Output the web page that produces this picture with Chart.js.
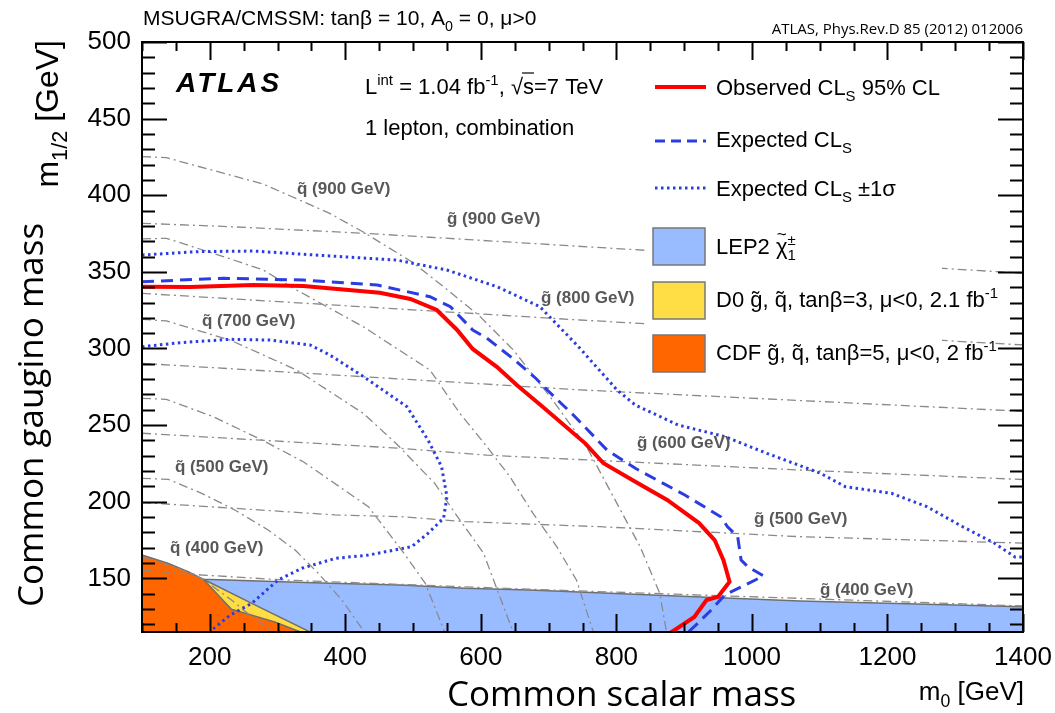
<!DOCTYPE html>
<html>
<head>
<meta charset="utf-8">
<script src="https://cdn.jsdelivr.net/npm/chart.js@4.4.0/dist/chart.umd.min.js"></script>
<style>
  html, body { margin: 0; padding: 0; background: #fff; }
  #wrap { width: 1055px; height: 713px; position: relative; }
</style>
</head>
<body>
<div id="wrap"><canvas id="canvas"></canvas></div>
<script>
// m0 / m1/2 exclusion contours, [m0, m12] in GeV
var observed = [[100,340.3],[171,340.1],[264,341.4],[338,340.8],[451,336.4],[496,332.3],[535,325.1],[565,312.1],[588,299.7],[624,287.9],[653,276.2],[692,261.6],[754,238.1],[781,225.1],[828,213.1],[875,201.2],[922,186.1],[945,175],[958,161.9],[967,147.8],[950,138],[933,135.9],[915,124.8],[880,114.5]];
var expected = [[100,343.6],[220,345.8],[338,344.7],[447,341.4],[525,333.8],[555,327.3],[588,312.1],[609,306.7],[647,293.6],[681,280.6],[698,272.9],[739,255.5],[786,233.8],[828,221.8],[901,204.4],[954,190.2],[964,183.7],[979,177.2],[984,162],[994,157.6],[1017,151.6],[985,144.6],[960,139.2],[940,129.4],[920,120.7],[905,114.5]];
var expPlus = [[100,361],[181,363.2],[264,363.6],[377,360.4],[476,357.7],[550,351.2],[624,340.3],[687,327.3],[744,301.2],[801,272.9],[828,263.1],[891,250.1],[960,242.5],[1022,231.6],[1101,218.6],[1138,209.8],[1206,205.5],[1258,196.8],[1311,183.7],[1358,172.9],[1388,164],[1400,164]];
var expMinus = [[100,301.2],[156,303.8],[230,306],[289,305.5],[348,302.3],[377,295.8],[427,281.6],[491,262],[522,240.3],[542,222.9],[550,203.3],[545,189.2],[522,179.4],[498,170.7],[434,165.2],[385,163],[336,156.6],[301,149],[262,133.7],[230,126],[203,116.3],[201,115]];

// earlier limits (upper edges, filled down to the axis)
var lep2 = [[100,152],[190,149.4],[377,146.8],[481,145.7],[577,143.5],[672,142.4],[1071,135.2],[1400,131.5]];
var d0 = [[190.5,149.4],[262,133.7],[350.4,114.5]];
var cdf = [[100,165.3],[139,159.8],[168,154.4],[190.5,149.4],[232,129.8],[252,127.3],[296,121.5],[337,114.5]];

// iso-mass contours
var gluino400 = [[100,155.5],[188,152.2],[311,148.9],[672,142.9],[1400,132]];
var gluino500 = [[100,199.5],[237,195.7],[385,191.4],[481,190.3],[577,187],[776,183.7],[1071,177.2],[1400,173]];
var gluino600 = [[100,244.7],[481,234.9],[609,230.4],[1071,220.7],[1400,214.5]];
var gluino700 = [[100,290.3],[628,276.2],[746,273],[1400,259]];
var gluino800 = [[100,336],[746,318.6],[1400,302.3]];
var gluino900 = [[100,381.7],[230,379.5],[426.5,375.2],[525,372.6],[1400,349.1]];
var squark400 = [[100,164],[154,156.6],[188,150],[232,135.9],[262,125],[296,114.5]];
var squark500 = [[100,215.3],[139,214.6],[188,205.5],[237,194.6],[286,181.6],[326,168.5],[360,153.3],[395,135.9],[429,114.5]];
var squark600 = [[100,267.5],[136,266.8],[205,255.5],[277,240.3],[338,226.1],[434,196.8],[483,168.5],[518,146.8],[547,114.5]];
var squark700 = [[100,319],[136,318],[230,305.5],[328,286],[426.5,257.7],[475,238],[532,212],[562,192.5],[604,166.4],[648,114.5]];
var squark800 = [[100,371.5],[136,371.9],[220,360],[279,351.2],[328,338.2],[426.5,314.2],[525,285.9],[569,257.7],[609,235.9],[643,216.3],[677,192.4],[712,170.7],[741,149],[766,115]];
var squark900 = [[100,425.2],[136,424.5],[279,407.3],[377,388.2],[426.5,376],[500,356],[545,340.3],[599,320.8],[648,299],[702,268.6],[756,235.9],[795.5,203.3],[835,170.7],[864,140.2],[874,115]];

var isoLabels = [
    ['q\u0303 (900 GeV)', 297, 188], ['g\u0303 (900 GeV)', 447, 218],
    ['q\u0303 (700 GeV)', 202, 320], ['g\u0303 (800 GeV)', 541, 297],
    ['g\u0303 (600 GeV)', 637, 442], ['q\u0303 (500 GeV)', 175, 466],
    ['g\u0303 (500 GeV)', 754, 518], ['q\u0303 (400 GeV)', 170, 547],
    ['g\u0303 (400 GeV)', 820, 589]
];

var xTicks = [200, 400, 600, 800, 1000, 1200, 1400];
var yTicks = [150, 200, 250, 300, 350, 400, 450, 500];

var HELV = "'Liberation Sans', Arial, Helvetica, sans-serif";
var OPEN = "'Open Sans', 'Noto Sans', sans-serif";
var ISO_DASH = [9, 4, 2, 4];

function pts(arr) {
    return arr.map(function (p) { return { x: p[0], y: p[1] }; });
}
function curve(arr, color, width, dash) {
    return {
        data: pts(arr), borderColor: color, borderWidth: width, borderDash: dash || [],
        pointRadius: 0, pointHoverRadius: 0, fill: false, tension: 0, clip: 0
    };
}
function region(arr, color) {
    return {
        data: pts(arr), borderColor: '#6f6f6f', borderWidth: 1.5, backgroundColor: color,
        pointRadius: 0, pointHoverRadius: 0, fill: 'start', tension: 0, clip: 0
    };
}

// draw text made of plain / sub / sup pieces, returns width
function rich(ctx, x, y, parts, size, weight, family, dry) {
    var cx = x;
    parts.forEach(function (p) {
        var t = p[0], m = p[1] || '';
        var fs = size, dy = 0;
        if (m.indexOf('sub') === 0) { fs = size * 0.68; dy = size * 0.28; }
        if (m.indexOf('sup') === 0) { fs = size * 0.68; dy = -size * 0.42; }
        ctx.font = (weight || '') + ' ' + fs + 'px ' + family;
        if (!dry) ctx.fillText(t, cx, y + dy);
        if (m.slice(-1) !== 'k') cx += ctx.measureText(t).width;
    });
    return cx - x;
}

var overlay = {
    id: 'overlay',
    afterDatasetsDraw: function (chart) {
        var ctx = chart.ctx;
        ctx.save();
        ctx.textBaseline = 'alphabetic';
        ctx.textAlign = 'left';

        // iso-mass labels
        ctx.fillStyle = '#585858';
        ctx.font = 'bold 17px ' + HELV;
        isoLabels.forEach(function (l) { ctx.fillText(l[0], l[1], l[2] + 6); });

        // legend
        ctx.fillStyle = '#fff';
        ctx.fillRect(645, 60, 297, 322);
        ctx.lineCap = 'butt';
        ctx.strokeStyle = '#ff0000'; ctx.lineWidth = 4; ctx.setLineDash([]);
        ctx.beginPath(); ctx.moveTo(655, 87); ctx.lineTo(706, 87); ctx.stroke();
        ctx.strokeStyle = '#2b3de0'; ctx.lineWidth = 3; ctx.setLineDash([10, 6]);
        ctx.beginPath(); ctx.moveTo(655, 141); ctx.lineTo(706, 141); ctx.stroke();
        ctx.setLineDash([2.5, 3.5]);
        ctx.beginPath(); ctx.moveTo(655, 188); ctx.lineTo(706, 188); ctx.stroke();
        ctx.setLineDash([]);
        [['#99bbff', 228], ['#ffdd44', 282], ['#ff6600', 335]].forEach(function (b) {
            ctx.fillStyle = b[0];
            ctx.fillRect(653, b[1], 52, 37);
            ctx.strokeStyle = '#777'; ctx.lineWidth = 1.5;
            ctx.strokeRect(653, b[1], 52, 37);
        });
        ctx.fillStyle = '#000';
        var L = 22, tx = 716;
        rich(ctx, tx, 95, [['Observed CL'], ['S', 'sub'], [' 95% CL']], L, '', HELV);
        rich(ctx, tx, 147, [['Expected CL'], ['S', 'sub']], L, '', HELV);
        rich(ctx, tx, 196, [['Expected CL'], ['S', 'sub'], [' \u00b11\u03c3']], L, '', HELV);
        // chargino symbol with its tilde drawn on top
        var lw = rich(ctx, tx, 254, [['LEP2 ']], L, '', HELV);
        ctx.font = L + 'px ' + HELV;
        var cw = ctx.measureText('\u03c7').width;
        ctx.fillText('\u03c7', tx + lw, 254);
        ctx.font = '17px ' + HELV;
        ctx.textAlign = 'center';
        ctx.fillText('~', tx + lw + cw / 2, 240);
        ctx.textAlign = 'left';
        rich(ctx, tx + lw + cw, 254, [['\u00b1', 'supk'], ['1', 'sub']], L, '', HELV);
        rich(ctx, tx, 307, [['D0 g\u0303, q\u0303, tan\u03b2=3, \u03bc<0, 2.1 fb'], ['-1', 'sup']], L, '', HELV);
        rich(ctx, tx, 360, [['CDF g\u0303, q\u0303, tan\u03b2=5, \u03bc<0, 2 fb'], ['-1', 'sup']], L, '', HELV);

        // header texts
        ctx.font = 'bold italic 28px ' + HELV;
        ctx.letterSpacing = '3px';
        ctx.fillText('ATLAS', 176, 92);
        ctx.letterSpacing = '0px';
        var w = rich(ctx, 365, 94, [['L'], ['int', 'sup'], [' = 1.04 fb'], ['-1', 'sup'], [', \u221a']], L, '', HELV);
        ctx.font = L + 'px ' + HELV;
        var sw = ctx.measureText('s').width;
        ctx.fillText('s=7 TeV', 365 + w, 94);
        ctx.lineWidth = 1.2; ctx.strokeStyle = '#000';
        ctx.beginPath(); ctx.moveTo(365 + w - 1, 73); ctx.lineTo(365 + w + sw, 73); ctx.stroke();
        rich(ctx, 365, 135, [['1 lepton, combination']], L, '', HELV);

        rich(ctx, 143, 25, [['MSUGRA/CMSSM: tan\u03b2 = 10, A'], ['0', 'sub'], [' = 0, \u03bc>0']], 21, '', HELV);
        ctx.font = '15px ' + OPEN;
        ctx.textAlign = 'right';
        ctx.fillText('ATLAS, Phys.Rev.D 85 (2012) 012006', 1023, 34);
        ctx.textAlign = 'left';

        // axis titles
        var mw = rich(ctx, 0, 0, [['m'], ['0', 'sub'], [' [GeV]']], 26, '', HELV, true);
        rich(ctx, 1024 - mw, 700, [['m'], ['0', 'sub'], [' [GeV]']], 26, '', HELV);
        ctx.font = '35px ' + OPEN;
        ctx.fillText('Common scalar mass', 447, 706);

        ctx.save();
        ctx.translate(58, 0);
        ctx.rotate(-Math.PI / 2);
        var yw = rich(ctx, 0, 0, [['m'], ['1/2', 'sub'], [' [GeV]']], 32, '', HELV, true);
        rich(ctx, -(40 + yw), 0, [['m'], ['1/2', 'sub'], [' [GeV]']], 32, '', HELV);
        ctx.restore();

        ctx.save();
        ctx.translate(43, 607);
        ctx.rotate(-Math.PI / 2);
        ctx.font = '35px ' + OPEN;
        ctx.fillText('Common gaugino mass', 0, 0);
        ctx.restore();

        ctx.restore();
    },
    afterDraw: function (chart) {
        var ctx = chart.ctx, a = chart.chartArea;
        var xs = chart.scales.x, ys = chart.scales.y;
        ctx.save();
        ctx.strokeStyle = '#000';
        ctx.lineWidth = 2;
        ctx.setLineDash([]);
        ctx.strokeRect(a.left, a.top, a.right - a.left, a.bottom - a.top);
        ctx.beginPath();
        for (var v = 100; v <= 1400; v += 50) {
            var px = Math.round(xs.getPixelForValue(v)) + 0.5;
            var len = v % 200 === 0 ? 18 : 9;
            ctx.moveTo(px, a.bottom); ctx.lineTo(px, a.bottom - len);
            ctx.moveTo(px, a.top); ctx.lineTo(px, a.top + len);
        }
        for (var u = 120; u <= 500; u += 10) {
            var py = Math.round(ys.getPixelForValue(u)) + 0.5;
            var ln = u % 50 === 0 ? 25 : 13;
            ctx.moveTo(a.left, py); ctx.lineTo(a.left + ln, py);
            ctx.moveTo(a.right, py); ctx.lineTo(a.right - ln, py);
        }
        ctx.stroke();
        ctx.restore();
    }
};

var isoColor = '#8a8a8a';
var datasets = [
    curve(observed, '#ff0000', 4),
    curve(expected, '#2b3de0', 3, [12, 7]),
    curve(expPlus, '#2b3de0', 3, [2.5, 3.5]),
    curve(expMinus, '#2b3de0', 3, [2.5, 3.5]),
    curve(squark900, isoColor, 1.3, ISO_DASH),
    curve(squark800, isoColor, 1.3, ISO_DASH),
    curve(squark700, isoColor, 1.3, ISO_DASH),
    curve(squark600, isoColor, 1.3, ISO_DASH),
    curve(squark500, isoColor, 1.3, ISO_DASH),
    curve(squark400, isoColor, 1.3, ISO_DASH),
    curve(gluino900, isoColor, 1.3, ISO_DASH),
    curve(gluino800, isoColor, 1.3, ISO_DASH),
    curve(gluino700, isoColor, 1.3, ISO_DASH),
    curve(gluino600, isoColor, 1.3, ISO_DASH),
    curve(gluino500, isoColor, 1.3, ISO_DASH),
    curve(gluino400, isoColor, 1.3, ISO_DASH),
    region(cdf, '#ff6600'),
    region(d0, '#ffdd44'),
    region(lep2, '#99bbff')
];

const ctx = document.getElementById('canvas').getContext('2d');
const myChart = new Chart(ctx, {
    type: 'line',
    data: { datasets: datasets },
    options: {
        responsive: true,
        maintainAspectRatio: false,
        animation: false,
        events: [],
        layout: { padding: { top: 42, right: 32, left: 0, bottom: 0 } },
        plugins: { legend: { display: false }, tooltip: { enabled: false } },
        scales: {
            x: {
                type: 'linear', min: 100, max: 1400,
                afterBuildTicks: function (s) { s.ticks = xTicks.map(function (v) { return { value: v }; }); },
                afterFit: function (s) { s.height = 81; s.paddingLeft = 0; s.paddingRight = 0; },
                grid: { display: false, drawTicks: false },
                border: { display: false },
                ticks: {
                    color: '#000', font: { family: HELV, size: 26 }, padding: 10, maxRotation: 0, autoSkip: false,
                    callback: function (v) { return String(v); }
                }
            },
            y: {
                type: 'linear', min: 115, max: 500,
                afterBuildTicks: function (s) { s.ticks = yTicks.map(function (v) { return { value: v }; }); },
                afterFit: function (s) { s.width = 142; s.paddingTop = 0; s.paddingBottom = 0; },
                grid: { display: false, drawTicks: false },
                border: { display: false },
                ticks: {
                    color: '#000', font: { family: HELV, size: 26 }, padding: 11, autoSkip: false,
                    callback: function (v) { return String(v); }
                }
            }
        }
    },
    plugins: [overlay]
});
</script>
</body>
</html>
